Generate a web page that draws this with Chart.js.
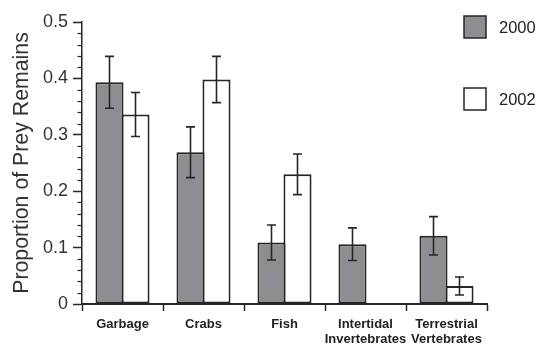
<!DOCTYPE html>
<html>
<head>
<meta charset="utf-8">
<script src="https://cdn.jsdelivr.net/npm/chart.js@4/dist/chart.umd.min.js"></script>
<style>
  html, body { margin: 0; padding: 0; background: #fff; }
  #wrap { width: 537px; height: 344px; }
</style>
</head>
<body>
<div id="wrap"><canvas id="c" width="537" height="344"></canvas></div>
<script>
// Prey remains by category, two survey years, with error bars
const categories = [['Garbage'], ['Crabs'], ['Fish'], ['Intertidal', 'Invertebrates'], ['Terrestrial', 'Vertebrates']];
const seriesLabels = ['2000', '2002'];
const values2000 = [0.393, 0.269, 0.109, 0.106, 0.121];
const values2002 = [0.336, 0.398, 0.230, 0.000, 0.032];
const err2000 = [0.046, 0.045, 0.031, 0.029, 0.034];
const err2002 = [0.039, 0.041, 0.036, 0.000, 0.016];
const yTickValues = [0, 0.1, 0.2, 0.3, 0.4, 0.5];

const INK = '#262626';
const FONT = '"Liberation Sans", Arial, sans-serif';
const errors = [err2000, err2002];

// Vertical error bars with short caps, centred on each bar
const errorBarPlugin = {
  id: 'errorBars',
  afterDatasetsDraw(chart) {
    const ctx = chart.ctx;
    const y = chart.scales.y;
    ctx.save();
    ctx.strokeStyle = INK;
    ctx.lineWidth = 1.6;
    chart.data.datasets.forEach((ds, di) => {
      const meta = chart.getDatasetMeta(di);
      meta.data.forEach((bar, i) => {
        const e = errors[di][i];
        if (!e) return;
        const v = ds.data[i];
        const top = y.getPixelForValue(v + e);
        const bot = y.getPixelForValue(v - e);
        const half = 4.5;
        ctx.beginPath();
        ctx.moveTo(bar.x, top); ctx.lineTo(bar.x, bot);
        ctx.moveTo(bar.x - half, top); ctx.lineTo(bar.x + half, top);
        ctx.moveTo(bar.x - half, bot); ctx.lineTo(bar.x + half, bot);
        ctx.stroke();
      });
    });
    ctx.restore();
  }
};

// Short minor ticks between the labelled y ticks
const minorTickPlugin = {
  id: 'minorTicks',
  afterDraw(chart) {
    const ctx = chart.ctx;
    const y = chart.scales.y;
    const x0 = chart.chartArea.left;
    ctx.save();
    ctx.strokeStyle = INK;
    ctx.lineWidth = 1.2;
    for (let k = 0; k < yTickValues.length - 1; k++) {
      const a = yTickValues[k], b = yTickValues[k + 1];
      for (let m = 1; m < 5; m++) {
        const py = Math.round(y.getPixelForValue(a + (b - a) * m / 5)) + 0.5;
        ctx.beginPath();
        ctx.moveTo(x0 - 4.5, py); ctx.lineTo(x0, py);
        ctx.stroke();
      }
    }
    ctx.restore();
  }
};

// Legend: square swatches stacked on the right
const sideLegendPlugin = {
  id: 'sideLegend',
  afterDraw(chart) {
    const ctx = chart.ctx;
    const right = chart.chartArea.right;
    ctx.save();
    chart.data.datasets.forEach((ds, i) => {
      const bx = right - 23, by = 16 + i * 72, s = 22;
      ctx.fillStyle = ds.backgroundColor;
      ctx.fillRect(bx, by, s, s);
      ctx.strokeStyle = INK;
      ctx.lineWidth = 1.5;
      ctx.strokeRect(bx, by, s, s);
      ctx.fillStyle = '#222';
      ctx.font = '16.5px ' + FONT;
      ctx.textBaseline = 'middle';
      ctx.textAlign = 'left';
      ctx.fillText(ds.label, bx + 35, by + s / 2 + 1);
    });
    ctx.restore();
  }
};

// Paired bars share one outline edge: each bar is slightly wider than its slot
const barStyle = {
  borderColor: INK,
  borderWidth: 2,
  borderSkipped: false,
  inflateAmount: 0,
  categoryPercentage: 0.642,
  barPercentage: 1.08
};

new Chart(document.getElementById('c'), {
  type: 'bar',
  data: {
    labels: categories,
    datasets: [
      Object.assign({ label: seriesLabels[0], data: values2000, backgroundColor: '#8d8e91' }, barStyle),
      Object.assign({ label: seriesLabels[1], data: values2002, backgroundColor: '#ffffff' }, barStyle)
    ]
  },
  options: {
    responsive: false,
    devicePixelRatio: 1,
    animation: false,
    layout: { padding: { top: 22, right: 50, left: 0, bottom: 0 } },
    plugins: { legend: { display: false }, tooltip: { enabled: false } },
    scales: {
      x: {
        offset: true,
        grid: { display: true, offset: true, drawOnChartArea: false, tickLength: 7, tickColor: INK, tickWidth: 1.5 },
        border: { display: true, color: INK, width: 2 },
        ticks: {
          color: '#222',
          padding: 6,
          maxRotation: 0,
          autoSkip: false,
          font: { family: FONT, size: 13, weight: 'bold', lineHeight: 1.15 }
        },
        afterFit(scale) { scale.height = 40; }
      },
      y: {
        min: 0,
        max: 0.5,
        grid: { display: true, drawOnChartArea: false, tickLength: 9, tickColor: INK, tickWidth: 1.5 },
        border: { display: true, color: INK, width: 1.5 },
        ticks: {
          stepSize: 0.1,
          color: '#333',
          padding: 5,
          font: { family: FONT, size: 18 },
          callback: (v) => (Math.abs(v) < 1e-9 ? '0' : Number(v).toFixed(1))
        },
        title: {
          display: true,
          text: 'Proportion of Prey Remains',
          color: '#333',
          padding: { top: 9, bottom: 0 },
          font: { family: FONT, size: 21.3 }
        },
        afterFit(scale) { scale.width = 82; }
      }
    }
  },
  plugins: [errorBarPlugin, minorTickPlugin, sideLegendPlugin]
});
</script>
</body>
</html>
